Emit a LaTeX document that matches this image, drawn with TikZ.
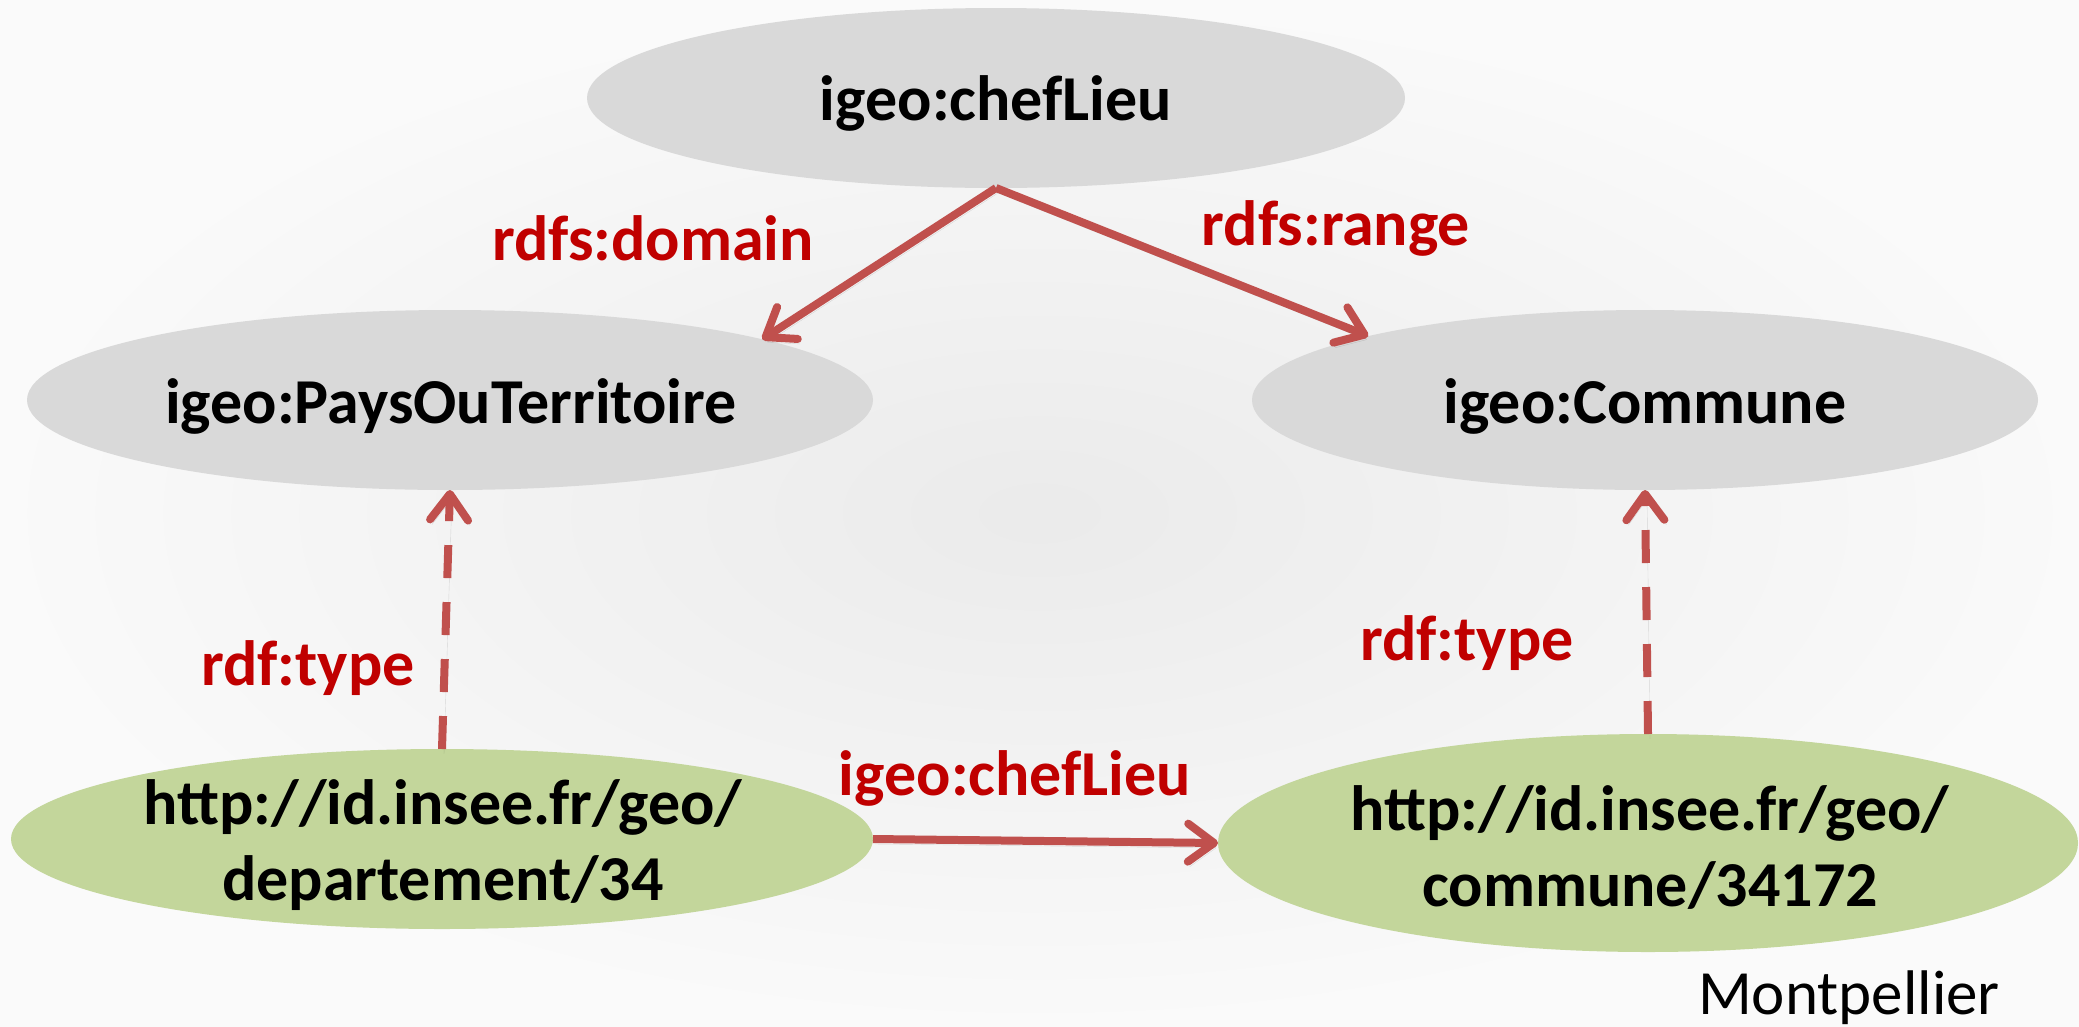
\documentclass[tikz,border=0pt]{standalone}
\usepackage{fontspec}
\setmainfont{Carlito}
\usetikzlibrary{shapes.geometric,arrows.meta}
\definecolor{ellgray}{HTML}{D9D9D9}
\definecolor{ellgreen}{HTML}{C3D69B}
\definecolor{lblred}{HTML}{C00000}
\definecolor{arrred}{HTML}{C0504D}
\begin{document}
\begin{tikzpicture}[x=1pt,y=-1pt,
  cls/.style={ellipse, fill=ellgray, draw=none, inner sep=0pt, outer sep=0pt},
  inst/.style={ellipse, fill=ellgreen, draw=none, inner sep=0pt, outer sep=0pt},
  onetext/.style={font=\fontsize{64}{76}\selectfont\bfseries, text=black, inner sep=0pt, anchor=base},
  twotext/.style={font=\fontsize{64}{76}\selectfont\bfseries, text=black, inner sep=0pt, align=center},
  lbl/.style={font=\fontsize{64}{76}\selectfont\bfseries, text=lblred, inner sep=0pt, anchor=base},
  rel/.style={draw=arrred, line width=8pt,
    -{Straight Barb[length=26pt,width=38pt,line cap=round,line join=round]},
    preaction={draw=black, draw opacity=0.12, transform canvas={shift={(2,5)}}}},
  typ/.style={rel, dash pattern=on 33pt off 24pt},
]
\useasboundingbox (0,0) rectangle (2079,1026);
\shade[inner color=black!8, outer color=black!2] (0,0) rectangle (2079,1026);

\node[cls, minimum width=818pt, minimum height=180pt] (chef) at (996,98) {};
\node[cls, minimum width=846pt, minimum height=180pt] (pays) at (450,400) {};
\node[cls, minimum width=786pt, minimum height=180pt] (comm) at (1645,400) {};
\node[inst, minimum width=862pt, minimum height=180pt] (dep) at (442,839) {};
\node[inst, minimum width=860pt, minimum height=218pt] (com) at (1648,843) {};

\node[onetext] (chefT) at (996,120) {igeo:chefLieu};
\node[onetext] (paysT) at (451,423) {igeo:PaysOuTerritoire};
\node[onetext] (commT) at (1645,423) {igeo:Commune};
\node[twotext] (depT) at (443,845) {http://id.insee.fr/geo/\\departement/34};
\node[twotext] (comT) at (1650,847) {http://id.insee.fr/geo/\\commune/34172};

\draw[rel] (chef.south) -- (pays.11.7);
\draw[rel] (chef.south) -- (comm.167.3);
\draw[rel] (dep.east) -- (com.west);
\draw[typ] (dep.north) -- (pays.south);
\draw[typ] (com.north) -- (comm.south);

\node[lbl] (ldom) at (653,260) {rdfs:domain};
\node[lbl] (lrange) at (1336,245) {rdfs:range};
\node[lbl] (ltype1) at (308,685) {rdf:type};
\node[lbl] (ltype2) at (1467,660) {rdf:type};
\node[lbl] (lchef) at (1015,795) {igeo:chefLieu};
\node[font=\fontsize{63}{76}\selectfont, text=black, inner sep=0pt, anchor=base] (mtp) at (1849,1014) {Montpellier};
\end{tikzpicture}
\end{document}
